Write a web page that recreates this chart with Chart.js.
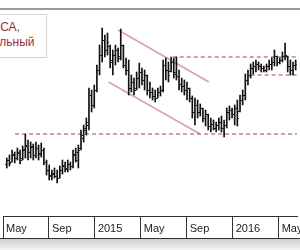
<!DOCTYPE html>
<html>
<head>
<meta charset="utf-8">
<script src="https://cdn.jsdelivr.net/npm/chart.js@4"></script>
<style>
  html, body { margin: 0; padding: 0; background: #fff; }
  #wrap { position: relative; width: 300px; height: 250px; overflow: hidden; }
  #chart { position: absolute; left: 0; top: 0; }
  #topline { position: absolute; left: 0; top: 8px; width: 300px; height: 2px; background: #9a9a9a; }
  #axisBottom { position: absolute; left: 0; top: 238px; width: 300px; height: 1px; background: #333; }
  #shade { position: absolute; left: 0; top: 239px; width: 300px; height: 11px; background: linear-gradient(#cfcfcf, #f3f3f3); }
  #legendBox { position: absolute; left: -60px; top: 14px; width: 105px; height: 42px;
    border: 1px solid #d4d4d4; background: #fff; }
  .lg { position: absolute; white-space: nowrap; font: 12px "Liberation Sans", Arial, sans-serif; color: #9c2b3c; }
</style>
</head>
<body>
<div id="wrap">
  <canvas id="chart" width="300" height="250"></canvas>
  <div id="topline"></div>
  <div id="axisBottom"></div>
  <div id="shade"></div>
  <div id="legendBox">
    <div class="lg" style="left:26px; top:5px;">АЛРОСА,</div>
    <div class="lg" style="left:32px; top:20px;">недельный</div>
  </div>
</div>
<script>
// Weekly OHLC bars, x measured in months from Jan 2014 (May 2014 = 4)
const FIRST_WEEK = 4.33;
const WEEK_STEP = 12 / 52;

const highs = [47.4, 48.3, 49.8, 49.2, 50.4, 49.8, 51.0, 54.6, 52.8, 52.2,
  51.6, 52.2, 51.3, 51.9, 50.4, 46.8, 45.3, 43.8, 44.4, 43.8,
  45.0, 46.8, 46.2, 46.8, 46.2, 49.8, 50.4, 51.3, 55.8, 57.3,
  59.4, 68.4, 67.8, 69.3, 75.3, 81.3, 86.4, 84.3, 84.9, 81.3,
  79.8, 81.3, 80.4, 86.1, 81.3, 77.4, 76.8, 72.3, 71.4, 73.2,
  75.9, 74.4, 73.8, 72.3, 70.2, 68.4, 67.8, 68.4, 69.0, 76.8,
  77.4, 76.2, 77.7, 77.4, 77.7, 73.8, 71.4, 70.8, 70.2, 68.4,
  66.0, 65.4, 64.8, 63.6, 62.4, 61.8, 60.6, 59.4, 58.8, 58.2,
  59.4, 60.0, 58.8, 62.4, 63.0, 62.4, 63.3, 64.8, 66.3, 67.8,
  72.6, 73.8, 75.6, 76.2, 76.8, 76.2, 75.6, 75.0, 75.6, 76.8,
  77.4, 79.8, 78.0, 77.4, 79.2, 81.9, 78.0, 76.8, 76.2, 76.8];

const lows = [44.4, 45.0, 46.2, 45.9, 46.8, 45.6, 46.8, 47.4, 46.8, 47.4,
  46.8, 47.4, 46.8, 47.7, 45.3, 42.3, 40.8, 40.8, 41.4, 39.9,
  41.4, 42.6, 43.2, 43.2, 43.8, 44.4, 46.2, 44.4, 49.8, 52.2,
  54.3, 55.8, 61.2, 62.4, 67.2, 72.3, 76.2, 77.7, 78.3, 74.4,
  72.3, 75.3, 76.2, 76.8, 74.4, 72.3, 66.3, 67.2, 66.3, 67.8,
  68.4, 69.3, 67.8, 66.3, 65.4, 64.8, 64.2, 65.4, 66.0, 67.2,
  70.8, 70.2, 73.2, 71.4, 70.8, 67.8, 67.2, 66.3, 64.8, 64.2,
  59.4, 57.3, 59.4, 60.0, 58.2, 57.0, 55.8, 55.2, 55.8, 55.2,
  55.8, 55.2, 53.7, 56.4, 58.8, 59.4, 57.3, 57.0, 61.2, 63.3,
  64.8, 69.3, 71.4, 72.6, 73.2, 73.8, 73.2, 73.2, 73.2, 73.8,
  73.8, 75.0, 75.0, 75.6, 76.2, 76.8, 73.2, 72.3, 72.3, 73.8];

const opens = [45.6, 46.8, 46.2, 48.3, 47.4, 48.9, 47.4, 49.8, 51.0, 49.2,
  50.7, 48.3, 50.4, 48.9, 49.8, 46.2, 43.8, 42.3, 42.6, 42.0,
  41.4, 43.8, 45.0, 44.4, 45.6, 45.0, 48.3, 46.8, 50.4, 53.4,
  55.8, 57.3, 66.3, 63.3, 67.8, 73.8, 78.3, 82.8, 79.8, 81.0,
  76.8, 78.3, 79.8, 78.0, 81.3, 75.3, 73.8, 68.4, 70.2, 68.4,
  71.4, 73.2, 70.8, 72.3, 67.8, 67.2, 66.0, 65.4, 67.2, 67.8,
  75.3, 73.8, 73.5, 76.2, 73.2, 72.0, 69.6, 69.0, 67.8, 68.4,
  65.4, 61.2, 63.3, 61.2, 62.4, 59.4, 60.6, 57.0, 57.6, 56.4,
  57.3, 58.2, 56.4, 57.3, 61.2, 61.8, 60.6, 62.4, 61.5, 64.8,
  66.3, 70.8, 72.3, 74.4, 75.0, 75.6, 75.0, 74.4, 73.8, 75.0,
  75.6, 76.2, 78.0, 76.2, 76.8, 78.0, 78.0, 75.0, 73.8, 75.3];

const closes = [46.8, 45.9, 48.6, 47.4, 49.2, 46.8, 50.1, 51.3, 49.2, 51.0,
  48.3, 50.4, 48.6, 49.8, 46.2, 43.8, 42.0, 42.9, 42.0, 41.4,
  43.8, 45.3, 44.1, 45.6, 45.0, 48.6, 49.2, 49.8, 54.3, 56.4,
  58.2, 66.3, 63.3, 67.8, 73.8, 78.3, 82.8, 79.8, 82.2, 76.2,
  78.3, 79.8, 77.4, 81.3, 75.3, 73.8, 68.4, 70.2, 67.8, 71.4,
  73.2, 70.8, 72.3, 67.8, 67.2, 66.0, 65.4, 67.2, 67.8, 75.3,
  73.8, 72.3, 76.2, 72.6, 72.0, 69.6, 69.0, 67.8, 68.4, 65.4,
  61.2, 63.3, 61.2, 62.4, 59.4, 60.6, 57.0, 57.6, 56.4, 57.3,
  58.2, 56.4, 57.3, 61.2, 61.8, 60.6, 62.4, 59.4, 64.8, 66.3,
  70.8, 72.3, 74.4, 75.0, 75.6, 75.0, 74.4, 73.8, 75.0, 75.6,
  76.2, 78.0, 76.2, 76.8, 78.0, 78.3, 75.0, 73.8, 75.3, 75.6];

// x axis: one box every 4 months
const tickMonths = [4, 8, 12, 16, 20, 24, 28];
const tickLabels = ['May', 'Sep', '2015', 'May', 'Sep', '2016', 'May'];

// drawn levels and the falling channel: [month, price]
const supportLine = [[5.05, 54.6], [29.6, 54.6]];
const resistanceLine = [[18.78, 77.7], [29.6, 77.7]];
const rangeLowLine = [[25.56, 72.3], [29.6, 72.3]];
const channelTop = [[14.03, 85.8], [21.92, 70.2]];
const channelBottom = [[13.19, 70.2], [21.15, 54.6]];

const BAR = '#111';
const LEVEL = '#a3474f';
const CHANNEL = '#dba7a7';

const weeks = highs.map((_, i) => FIRST_WEEK + i * WEEK_STEP);

// small open/close notches used as point images
function tickImage(side) {
    const c = document.createElement('canvas');
    c.width = 4; c.height = 1;
    const g = c.getContext('2d');
    g.fillStyle = BAR;
    g.fillRect(side === 'left' ? 0 : 2.5, 0, 1.5, 1);
    return c;
}

const pts = (arr) => arr.map(([x, y]) => ({ x, y }));

function levelSet(arr, dashed) {
    return {
        type: 'line',
        data: pts(arr),
        borderColor: dashed ? LEVEL : CHANNEL,
        borderWidth: dashed ? 1 : 2,
        borderDash: dashed ? [4, 3] : [],
        pointRadius: 0,
        order: 5
    };
}

function tickSet(values, side) {
    return {
        type: 'line',
        data: weeks.map((x, i) => ({ x, y: values[i] })),
        showLine: false,
        pointStyle: tickImage(side),
        pointRadius: 2,
        pointHoverRadius: 2,
        order: 0
    };
}

new Chart(document.getElementById('chart'), {
    type: 'bar',
    data: {
        datasets: [
            {
                type: 'bar',
                data: weeks.map((x, i) => ({ x, y: [lows[i], highs[i]] })),
                backgroundColor: BAR,
                borderWidth: 0,
                barThickness: 1,
                order: 1
            },
            tickSet(opens, 'left'),
            tickSet(closes, 'right'),
            levelSet(supportLine, true),
            levelSet(resistanceLine, true),
            levelSet(rangeLowLine, true),
            levelSet(channelTop, false),
            levelSet(channelBottom, false)
        ]
    },
    options: {
        responsive: false,
        animation: false,
        events: [],
        layout: { padding: { left: -2, right: 0, top: 10, bottom: 12 } },
        plugins: { legend: { display: false }, tooltip: { enabled: false } },
        scales: {
            x: {
                type: 'linear',
                min: 4,
                max: 29.6,
                offset: false,
                afterBuildTicks: (s) => { s.ticks = tickMonths.map(v => ({ value: v })); },
                afterFit: (s) => { s.height = 22; s.paddingLeft = 0; s.paddingRight = 0; },
                grid: { offset: false, drawOnChartArea: false, drawTicks: true, tickLength: 22, color: '#333', lineWidth: 1 },
                border: { display: true, color: '#333', width: 1 },
                ticks: {
                    align: 'start',
                    labelOffset: 3,
                    padding: -16,
                    maxRotation: 0,
                    autoSkip: false,
                    color: '#222',
                    font: { family: 'Liberation Sans', size: 11 },
                    callback: (v, i) => tickLabels[i]
                }
            },
            y: { display: false, min: 30, max: 91.8 }
        }
    }
});
</script>
</body>
</html>
